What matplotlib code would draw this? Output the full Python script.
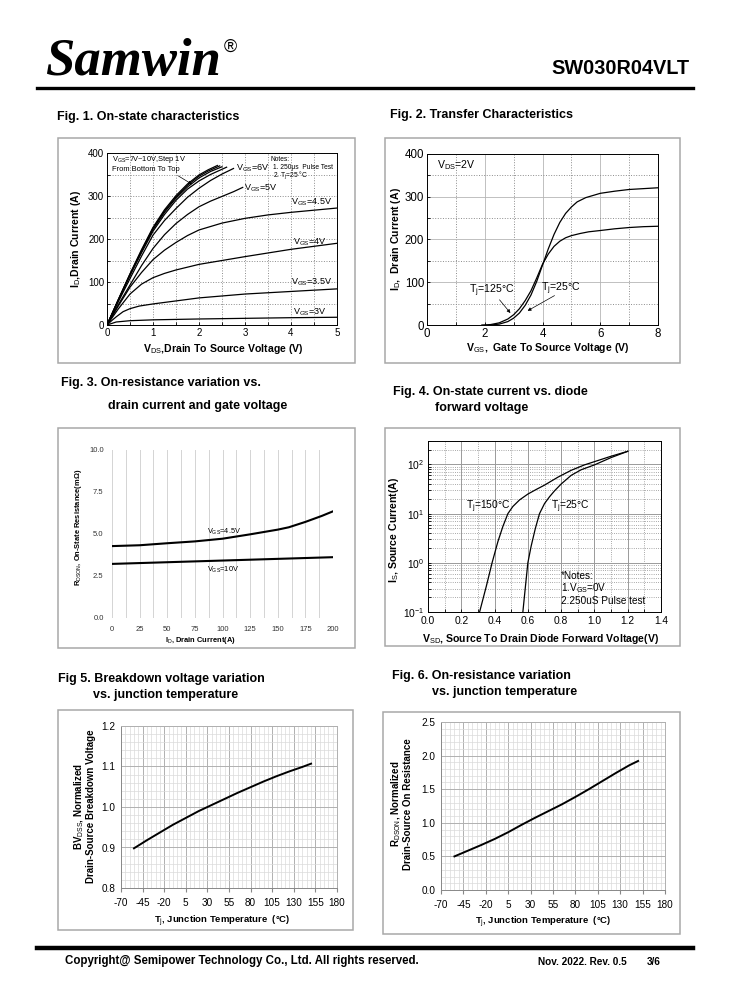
import numpy as np
import matplotlib
matplotlib.use('Agg')
from matplotlib import pyplot
from matplotlib.patches import Rectangle
from matplotlib.lines import Line2D
from matplotlib.ticker import MultipleLocator, LogLocator, NullFormatter, FormatStrFormatter

# fonts
pyplot.rcParams['font.family'] = ['Liberation Sans', 'DejaVu Sans']
pyplot.rcParams['mathtext.fontset'] = 'custom'
pyplot.rcParams['mathtext.rm'] = 'Liberation Sans'
pyplot.rcParams['mathtext.it'] = 'Liberation Sans:italic'
pyplot.rcParams['mathtext.bf'] = 'Liberation Sans:bold'
pyplot.rcParams['mathtext.default'] = 'regular'
pyplot.rcParams['axes.unicode_minus'] = False

# ---- Fig 1: on-state characteristics (VDS [V], ID [A]) ----
vgs3_x = [0, 0.2, 0.5, 1, 2, 3, 4, 5]
vgs3_y = [0, 7, 10, 12, 14, 15.5, 17, 18]
vgs35_x = [0, 0.1, 0.2, 0.35, 0.5, 0.7, 1, 1.5, 2, 3, 4, 5]
vgs35_y = [0, 10, 19, 31, 38, 44, 49, 56, 63, 72, 78, 84]
vgs4_x = [0, 0.25, 0.5, 0.75, 1, 1.25, 1.5, 2, 2.5, 3, 4, 5]
vgs4_y = [0, 38, 72, 95, 110, 120, 128, 141, 150, 159, 176, 190]
vgs45_x = [0, 0.25, 0.5, 0.75, 1, 1.25, 1.5, 1.75, 2, 2.5, 3, 3.5, 4, 5]
vgs45_y = [0, 45, 88, 122, 152, 174, 192, 208, 221, 237, 248, 256, 262, 272]
vgs5_x = [0, 0.25, 0.5, 0.75, 1, 1.25, 1.5, 1.75, 2, 2.25, 2.5, 2.75, 2.95]
vgs5_y = [0, 48, 93, 138, 178, 210, 236, 257, 275, 288, 299, 310, 320]
vgs6_x = [0, 0.25, 0.5, 0.75, 1, 1.25, 1.5, 1.75, 2, 2.25, 2.5, 2.75]
vgs6_y = [0, 55, 108, 160, 209, 243, 271, 297, 318, 336, 351, 364]
vgs7_x = [0, 0.25, 0.5, 0.75, 1, 1.25, 1.5, 1.75, 2, 2.25, 2.6]
vgs7_y = [0, 58, 115, 168, 218, 257, 290, 316, 335, 350, 367]
vgs8_x = [0, 0.25, 0.5, 0.75, 1, 1.25, 1.5, 1.75, 2, 2.25, 2.5]
vgs8_y = [0, 59, 117, 171, 222, 262, 295, 321, 342, 357, 368]
vgs9_x = [0, 0.25, 0.5, 0.75, 1, 1.25, 1.5, 1.75, 2, 2.2, 2.45]
vgs9_y = [0, 60, 118, 173, 225, 265, 298, 325, 346, 358, 370]
vgs10_x = [0, 0.25, 0.5, 0.75, 1, 1.25, 1.5, 1.75, 2, 2.2, 2.4]
vgs10_y = [0, 60, 119, 175, 227, 268, 301, 328, 349, 361, 371]
fig1_curves = [(vgs3_x, vgs3_y), (vgs35_x, vgs35_y), (vgs4_x, vgs4_y), (vgs45_x, vgs45_y),
               (vgs5_x, vgs5_y), (vgs6_x, vgs6_y), (vgs7_x, vgs7_y), (vgs8_x, vgs8_y),
               (vgs9_x, vgs9_y), (vgs10_x, vgs10_y)]
fig1_labels = [('3V', 4.05, 30), ('3.5V', 4.0, 100), ('4V', 4.05, 193), ('4.5V', 4.0, 285),
               ('5V', 2.98, 318), ('6V', 2.8, 365)]

# ---- Fig 2: transfer characteristics (VGS [V], ID [A]) ----
t25_x = [2.2, 2.5, 2.8, 3.0, 3.2, 3.4, 3.6, 3.8, 4.0, 4.2, 4.4, 4.6, 4.8, 5.0, 5.2, 5.5, 6.0, 6.5, 7.0, 7.5, 8.0]
t25_y = [0, 2, 8, 16, 28, 46, 70, 102, 140, 178, 212, 240, 261, 276, 288, 298, 308, 313, 317, 319, 321]
t125_x = [1.9, 2.2, 2.5, 2.8, 3.0, 3.2, 3.4, 3.6, 3.8, 4.0, 4.2, 4.4, 4.6, 4.8, 5.0, 5.3, 5.6, 6.0, 6.5, 7.0, 7.5, 8.0]
t125_y = [0, 1, 5, 14, 24, 38, 57, 80, 110, 142, 166, 184, 196, 204, 209, 214, 218, 221, 225, 228, 230, 231]

# ---- Fig 3: RDS(on) vs ID ----
r45_x = [0, 25, 50, 75, 100, 125, 150, 160, 175, 190, 200]
r45_y = [4.28, 4.33, 4.45, 4.56, 4.72, 4.98, 5.26, 5.4, 5.72, 6.08, 6.35]
r10_x = [0, 25, 50, 75, 100, 125, 150, 175, 200]
r10_y = [3.22, 3.27, 3.32, 3.37, 3.42, 3.47, 3.52, 3.57, 3.62]

# ---- Fig 4: diode forward (VSD [V], IS [A]) ----
d150_x = [0.31, 0.35, 0.385, 0.42, 0.45, 0.48, 0.51, 0.55, 0.60, 0.65, 0.70, 0.78, 0.86, 0.94, 1.02, 1.10, 1.20]
d150_y = [0.1, 0.33, 1.0, 2.7, 5.5, 10, 14, 19, 25, 31, 38, 55, 76, 98, 120, 147, 185]
d25_x = [0.57, 0.585, 0.60, 0.62, 0.645, 0.67, 0.70, 0.73, 0.76, 0.80, 0.86, 0.92, 1.00, 1.10, 1.20]
d25_y = [0.1, 0.32, 1.0, 2.2, 5.0, 10, 16, 22, 29, 40, 60, 78, 98, 138, 185]

# ---- Fig 5 / Fig 6: vs junction temperature ----
tj = [-55, -40, -25, -10, 5, 20, 35, 50, 65, 80, 95, 110, 125, 140, 150]
bvdss = [0.898, 0.918, 0.937, 0.956, 0.973, 0.990, 1.005, 1.020, 1.035, 1.049, 1.063, 1.076, 1.088, 1.099, 1.107]
rdson = [0.50, 0.585, 0.67, 0.76, 0.86, 0.97, 1.075, 1.175, 1.275, 1.385, 1.50, 1.62, 1.74, 1.855, 1.92]
tj_ticks = [-70, -45, -20, 5, 30, 55, 80, 105, 130, 155, 180]

W, H = 738, 1000
fig = pyplot.figure(figsize=(W / 100, H / 100), dpi=100)


def add_ax(x0, y0, x1, y1):
    return fig.add_axes([x0 / W, 1 - y1 / H, (x1 - x0) / W, (y1 - y0) / H])


def ftext(x, y, s, **kw):
    kw.setdefault('ha', 'left')
    kw.setdefault('va', 'center')
    return fig.text(x / W, 1 - y / H, s, **kw)


def frame(x0, y0, x1, y1):
    fig.patches.append(Rectangle((x0 / W, 1 - y1 / H), (x1 - x0) / W, (y1 - y0) / H,
                                 transform=fig.transFigure, fill=False, ec='#a8a8a8', lw=1.1))


def hline(y, x0, x1, lw):
    fig.lines.append(Line2D([x0 / W, x1 / W], [1 - y / H, 1 - y / H], transform=fig.transFigure,
                            color='black', lw=lw))


# header / footer
ftext(45, 62, 'Samwin', family='Liberation Serif', style='italic', weight='bold', size=38)
ftext(224, 47, '®', size=13)
ftext(690, 68, 'SW030R04VLT', ha='right', weight='bold', size=14.3)
hline(88, 37, 693, 2.4)
hline(948, 37, 693, 3.2)
ftext(65, 961, 'Copyright@ Semipower Technology Co., Ltd. All rights reserved.', weight='bold', size=8.3)
ftext(538, 962, 'Nov. 2022. Rev. 0.5', weight='bold', size=7.2)
ftext(647, 962, '3/6', weight='bold', size=7.2)

# titles
tkw = dict(weight='bold', size=9.0)
ftext(57, 117, 'Fig. 1. On-state characteristics', **tkw)
ftext(390, 115, 'Fig. 2. Transfer Characteristics', **tkw)
ftext(61, 383, 'Fig. 3. On-resistance variation vs.', **tkw)
ftext(108, 406, 'drain current and gate voltage', **tkw)
ftext(393, 392, 'Fig. 4. On-state current vs. diode', **tkw)
ftext(435, 408, 'forward voltage', **tkw)
ftext(58, 679, 'Fig 5. Breakdown voltage variation', **tkw)
ftext(93, 695, 'vs. junction temperature', **tkw)
ftext(392, 676, 'Fig. 6. On-resistance variation', **tkw)
ftext(432, 692, 'vs. junction temperature', **tkw)

# panel frames
frame(58, 138, 355, 363)
frame(385, 138, 680, 363)
frame(58, 428, 355, 648)
frame(385, 428, 680, 646)
frame(58, 710, 353, 930)
frame(383, 712, 680, 934)

# ---------------- Fig 1 ----------------
ax1 = add_ax(107, 153, 337, 325)
for x, y in fig1_curves:
    ax1.plot(x, y, color='black', lw=0.9)
ax1.set_xlim(0, 5)
ax1.set_ylim(0, 400)
ax1.xaxis.set_major_locator(MultipleLocator(1))
ax1.xaxis.set_minor_locator(MultipleLocator(0.5))
ax1.yaxis.set_major_locator(MultipleLocator(100))
ax1.yaxis.set_minor_locator(MultipleLocator(50))
ax1.grid(which='both', ls=':', color='#8c8c8c', lw=0.7)
ax1.tick_params(which='both', direction='in', labelsize=7.0, length=2.5, width=0.6, pad=2)
for sp in ax1.spines.values():
    sp.set_linewidth(0.7)
for lab, x, y in fig1_labels:
    ax1.text(x, y, 'V$_\\mathrm{GS}$=' + lab, size=6.5, va='center')
ax1.text(0.1, 384, 'V$_\\mathrm{GS}$=7V~10V,Step 1V', size=5.4, va='center')
ax1.text(0.1, 361, 'From Bottom To Top', size=5.4, va='center')
ax1.annotate('', xy=(1.9, 324), xytext=(1.5, 350),
             arrowprops=dict(arrowstyle='-|>', lw=0.5, color='black', mutation_scale=5))
ax1.text(3.55, 386, 'Notes:', size=4.8, va='center')
ax1.text(3.6, 367, '1. 250μs  Pulse Test', size=4.8, va='center')
ax1.text(3.6, 349, '2. T$_\\mathrm{j}$=25 °C', size=4.8, va='center')
ftext(223, 349, 'V$_\\mathrm{DS}$,Drain To Source Voltage (V)', ha='center', weight='bold', size=7.6)
ftext(76, 239, 'I$_\\mathrm{D}$,Drain Current (A)', ha='center', rotation=90, weight='bold', size=7.6)

# ---------------- Fig 2 ----------------
ax2 = add_ax(427, 154, 658, 325)
ax2.plot(t25_x, t25_y, color='black', lw=0.9)
ax2.plot(t125_x, t125_y, color='black', lw=0.9)
ax2.set_xlim(0, 8)
ax2.set_ylim(0, 400)
ax2.xaxis.set_major_locator(MultipleLocator(2))
ax2.xaxis.set_minor_locator(MultipleLocator(1))
ax2.yaxis.set_major_locator(MultipleLocator(100))
ax2.yaxis.set_minor_locator(MultipleLocator(50))
ax2.grid(which='major', ls='-', color='#b5b5b5', lw=0.6)
ax2.grid(which='minor', ls=':', color='#8c8c8c', lw=0.7)
ax2.tick_params(which='both', direction='in', labelsize=8.3, length=2.5, width=0.6, pad=2)
for sp in ax2.spines.values():
    sp.set_linewidth(0.7)
ax2.text(0.35, 374, 'V$_\\mathrm{DS}$=2V', size=7.6, va='center')
ax2.text(1.45, 80, 'T$_\\mathrm{j}$=125°C', size=7.6, va='center')
ax2.text(3.95, 85, 'T$_\\mathrm{j}$=25°C', size=7.6, va='center')
ax2.annotate('', xy=(2.95, 23), xytext=(2.45, 64),
             arrowprops=dict(arrowstyle='-|>', lw=0.5, color='black', mutation_scale=5))
ax2.annotate('', xy=(3.4, 30), xytext=(4.5, 72),
             arrowprops=dict(arrowstyle='-|>', lw=0.5, color='black', mutation_scale=5))
ftext(548, 348, 'V$_\\mathrm{GS}$,  Gate To Source Voltage (V)', ha='center', weight='bold', size=7.6)
ftext(396, 239, 'I$_\\mathrm{D}$,  Drain Current (A)', ha='center', rotation=90, weight='bold', size=7.6)

# ---------------- Fig 3 ----------------
ax3 = add_ax(112, 450, 333, 618)
ax3.plot(r45_x, r45_y, color='black', lw=1.5)
ax3.plot(r10_x, r10_y, color='black', lw=1.5)
ax3.set_xlim(0, 200)
ax3.set_ylim(0, 10)
ax3.xaxis.set_major_locator(MultipleLocator(25))
ax3.xaxis.set_minor_locator(MultipleLocator(12.5))
ax3.yaxis.set_major_locator(MultipleLocator(2.5))
ax3.yaxis.set_major_formatter(FormatStrFormatter('%.1f'))
ax3.grid(which='both', axis='x', color='#d4d4d4', lw=0.7)
ax3.tick_params(which='both', length=0, labelsize=5.5, pad=6, colors='#333333')
for sp in ax3.spines.values():
    sp.set_visible(False)
ax3.text(86, 5.12, 'V$_\\mathrm{GS}$=4.5V', size=5.3, va='center')
ax3.text(86, 2.85, 'V$_\\mathrm{GS}$=10V', size=5.3, va='center')
ftext(200, 640, 'I$_\\mathrm{D}$, Drain Current(A)', ha='center', weight='bold', size=5.4)
ftext(78, 527, 'R$_\\mathrm{DSON}$, On-State Resistance(mΩ)', ha='center', rotation=90, weight='bold', size=5.4)

# ---------------- Fig 4 ----------------
ax4 = add_ax(428, 441, 661, 612)
ax4.plot(d150_x, d150_y, color='black', lw=0.9)
ax4.plot(d25_x, d25_y, color='black', lw=0.9)
ax4.set_yscale('log')
ax4.set_xlim(0, 1.4)
ax4.set_ylim(0.1, 300)
ax4.xaxis.set_major_locator(MultipleLocator(0.2))
ax4.xaxis.set_minor_locator(MultipleLocator(0.1))
ax4.xaxis.set_major_formatter(FormatStrFormatter('%.1f'))
ax4.yaxis.set_major_locator(LogLocator(base=10, numticks=10))
ax4.yaxis.set_minor_locator(LogLocator(base=10, subs=np.arange(2, 10), numticks=10))
ax4.yaxis.set_minor_formatter(NullFormatter())
ax4.grid(which='major', ls='-', color='#9a9a9a', lw=0.7)
ax4.grid(which='minor', ls=':', color='#8c8c8c', lw=0.6)
ax4.tick_params(which='both', direction='in', labelsize=7.4, length=2, width=0.6, pad=3)
for sp in ax4.spines.values():
    sp.set_linewidth(0.7)
ax4.text(0.23, 14, 'T$_\\mathrm{j}$=150°C', size=7.4, va='center')
ax4.text(0.74, 14, 'T$_\\mathrm{j}$=25°C', size=7.4, va='center')
ax4.text(0.80, 0.53, '*Notes:', size=7.2, va='center')
ax4.text(0.80, 0.30, '1.V$_\\mathrm{GS}$=0V', size=7.2, va='center')
ax4.text(0.80, 0.167, '2.250uS Pulse test', size=7.2, va='center')
ftext(541, 639, 'V$_\\mathrm{SD}$, Source To Drain Diode Forward Voltage(V)', ha='center', weight='bold', size=7.6)
ftext(394, 530, 'I$_\\mathrm{S}$, Source Current(A)', ha='center', rotation=90, weight='bold', size=7.6)


def excel_axes(ax, ymin, ymax, ymaj, ymin_step):
    ax.set_xlim(-70, 180)
    ax.set_ylim(ymin, ymax)
    ax.set_xticks(tj_ticks)
    ax.xaxis.set_minor_locator(MultipleLocator(5))
    ax.yaxis.set_major_locator(MultipleLocator(ymaj))
    ax.yaxis.set_minor_locator(MultipleLocator(ymin_step))
    ax.yaxis.set_major_formatter(FormatStrFormatter('%.1f'))
    ax.grid(which='minor', color='#dadada', lw=0.5)
    ax.grid(which='major', color='#b0b0b0', lw=0.7)
    ax.tick_params(which='major', length=3, color='#888888', labelsize=7.2, pad=4)
    ax.tick_params(which='minor', length=0)
    ax.tick_params(axis='y', length=0)
    for sp in ax.spines.values():
        sp.set_color('#b0b0b0')
        sp.set_linewidth(0.7)
    ax.spines['left'].set_color('#888888')
    ax.spines['bottom'].set_color('#888888')


# ---------------- Fig 5 ----------------
ax5 = add_ax(121, 726, 337, 888)
ax5.plot(tj, bvdss, color='black', lw=1.4)
excel_axes(ax5, 0.8, 1.2, 0.1, 0.02)
ftext(222, 921, 'T$_\\mathrm{j}$, Junction Temperature  (°C)', ha='center', weight='bold', size=6.8)
ftext(84, 806, 'BV$_\\mathrm{DSS}$, Normalized\nDrain-Source Breakdown Voltage', ha='center',
      rotation=90, weight='bold', size=7.0, linespacing=1.0)

# ---------------- Fig 6 ----------------
ax6 = add_ax(441, 722, 665, 890)
ax6.plot(tj, rdson, color='black', lw=1.4)
excel_axes(ax6, 0.0, 2.5, 0.5, 0.1)
ftext(543, 922, 'T$_\\mathrm{j}$, Junction Temperature  (°C)', ha='center', weight='bold', size=6.8)
ftext(401, 804, 'R$_\\mathrm{DSON}$, Normalized\nDrain-Source On Resistance', ha='center',
      rotation=90, weight='bold', size=7.0, linespacing=1.0)

fig.savefig('out.png', dpi=100)
